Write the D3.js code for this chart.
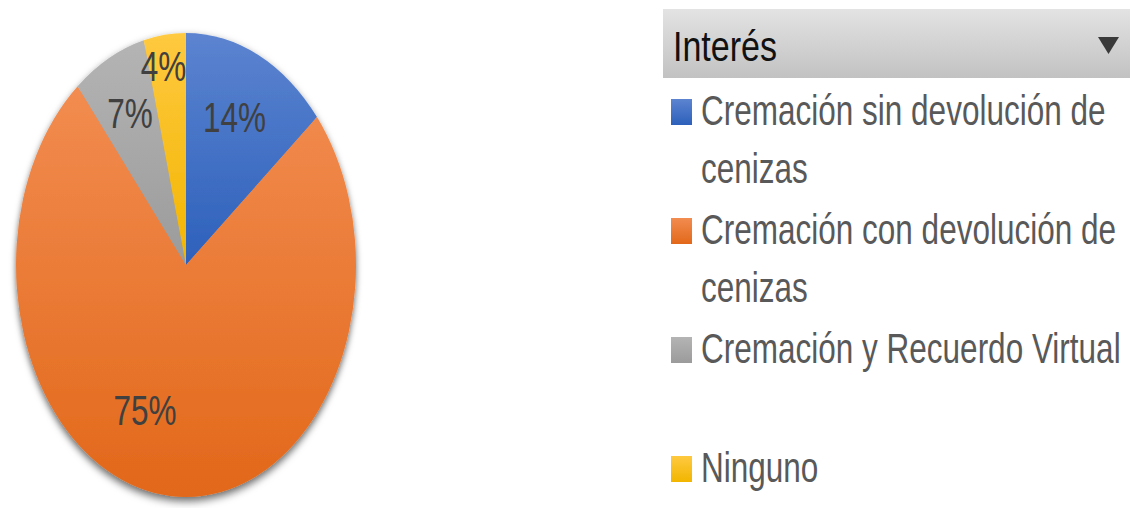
<!DOCTYPE html>
<html>
<head>
<meta charset="utf-8">
<script src="https://cdn.jsdelivr.net/npm/d3@7"></script>
<style>
  html, body { margin: 0; padding: 0; background: #fff; }
  svg { display: block; }
  text { font-family: "Liberation Sans", Arial, sans-serif; }
</style>
</head>
<body>
<svg id="chart" width="1130" height="508"></svg>
<script>
// ---- data ----
const categories = [
  "Cremación sin devolución de cenizas",
  "Cremación con devolución de cenizas",
  "Cremación y Recuerdo Virtual",
  "Ninguno"
];
const values = [14, 75, 7, 4];
const pctLabels = ["14%", "75%", "7%", "4%"];
const legendTitle = "Interés";

// ---- style / layout ----
const W = 1130, H = 508;
const cx = 186, cy = 265, ry = 232, rx = 170;
const sx = rx / ry;            // horizontal compression of the whole picture
const fontSize = 43;
const colorTop = ["#5c84d0", "#f28c50", "#b4b4b4", "#ffc940"];
const colorBot = ["#2d60bb", "#e2681a", "#9b9b9b", "#f2b500"];
const labelRadius = [0.70, 0.666, 0.735, 0.868];
const labelAngleShift = [-1.1, 15.8, 0.4, -1.6]; // degrees

const svg = d3.select("#chart");
const defs = svg.append("defs");

categories.forEach((c, i) => {
  const g = defs.append("linearGradient")
    .attr("id", "grad" + i).attr("x1", 0).attr("y1", 0).attr("x2", 0).attr("y2", 1);
  g.append("stop").attr("offset", "0%").attr("stop-color", colorTop[i]);
  g.append("stop").attr("offset", "100%").attr("stop-color", colorBot[i]);
});
const hg = defs.append("linearGradient").attr("id", "hdr")
  .attr("x1", 0).attr("y1", 0).attr("x2", 0).attr("y2", 1);
hg.append("stop").attr("offset", "0%").attr("stop-color", "#e3e3e3");
hg.append("stop").attr("offset", "100%").attr("stop-color", "#c2c2c2");

const shadow = defs.append("filter").attr("id", "shadow")
  .attr("x", "-10%").attr("y", "-10%").attr("width", "120%").attr("height", "120%");
shadow.append("feDropShadow").attr("dx", 0).attr("dy", 4)
  .attr("stdDeviation", 4).attr("flood-color", "#000").attr("flood-opacity", 0.6);

// ---- pie ----
const pie = d3.pie().sort(null).value(d => d)(values);
const arc = d3.arc().innerRadius(0).outerRadius(ry);

const pieG = svg.append("g")
  .attr("transform", `translate(${cx},${cy}) scale(${sx},1)`)
  .attr("filter", "url(#shadow)");
pieG.selectAll("path").data(pie).join("path")
  .attr("d", arc)
  .attr("fill", (d, i) => `url(#grad${i})`);

// labels
const labG = svg.append("g");
pie.forEach((d, i) => {
  const mid = (d.startAngle + d.endAngle) / 2 + labelAngleShift[i] * Math.PI / 180;
  const r = labelRadius[i] * ry;
  const lx = Math.sin(mid) * r * sx + cx;
  const ly = -Math.cos(mid) * r + cy;
  labG.append("text")
    .attr("transform", `translate(${lx},${ly}) scale(${sx},1)`)
    .attr("text-anchor", "middle")
    .attr("dy", "0.36em")
    .attr("font-size", fontSize)
    .attr("fill", "#404040")
    .text(pctLabels[i]);
});

// ---- legend ----
const hdrX = 663, hdrY = 9, hdrH = 69;
svg.append("rect").attr("x", hdrX).attr("y", hdrY)
  .attr("width", W - hdrX).attr("height", hdrH).attr("fill", "url(#hdr)");
svg.append("text")
  .attr("transform", `translate(673,61) scale(${sx * 1.08},1)`)
  .attr("font-size", fontSize).attr("fill", "#111")
  .text(legendTitle);
svg.append("path")
  .attr("d", "M1098,37 L1119,37 L1108.5,54 Z")
  .attr("fill", "#3a3a3a");

const yEntry = d3.scalePoint().domain(categories).range([125, 482]);
const lineH = 58;
const maxW = 432; // screen px available for text

const legG = svg.append("g");
categories.forEach((c, i) => {
  const by = yEntry(c);
  legG.append("rect")
    .attr("x", 671).attr("y", by - 26).attr("width", 21).attr("height", 26)
    .attr("fill", `url(#grad${i})`);
  // word wrap
  const words = c.split(" ");
  let lines = [], cur = "";
  const probe = legG.append("text").attr("font-size", fontSize);
  words.forEach(w => {
    const test = cur ? cur + " " + w : w;
    probe.text(test);
    if (probe.node().getComputedTextLength() * sx > maxW && cur) {
      lines.push(cur); cur = w;
    } else cur = test;
  });
  lines.push(cur);
  probe.remove();
  lines.forEach((ln, k) => {
    legG.append("text")
      .attr("transform", `translate(701,${by + k * lineH}) scale(${sx},1)`)
      .attr("font-size", fontSize)
      .attr("fill", "#595959")
      .text(ln);
  });
});
</script>
</body>
</html>
